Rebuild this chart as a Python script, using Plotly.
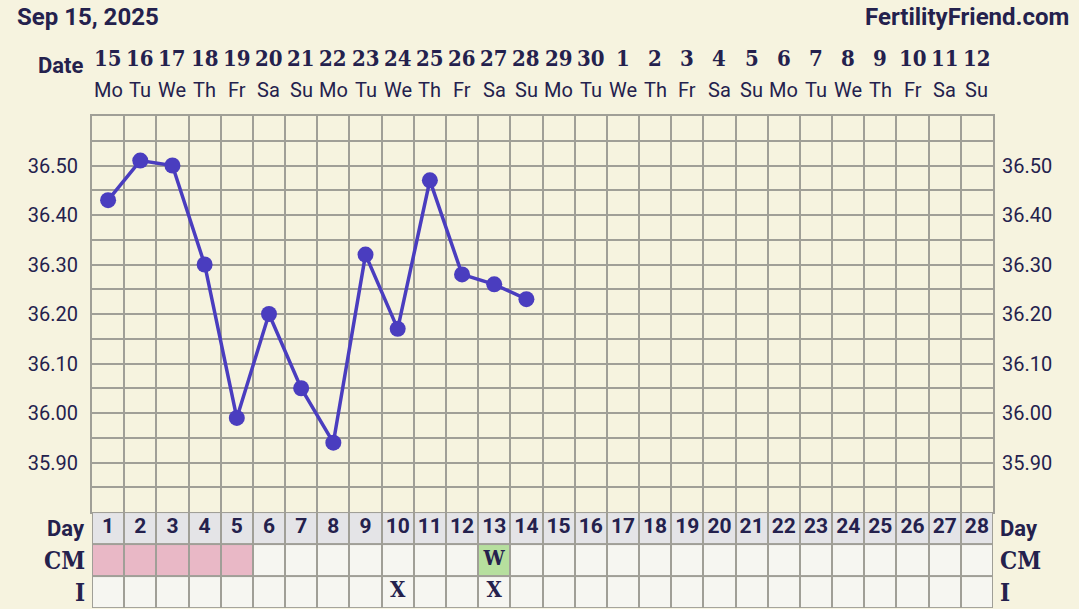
import plotly.graph_objects as go

# Дані графіка
cycle_days = list(range(1, 29))
dates = [15, 16, 17, 18, 19, 20, 21, 22, 23, 24, 25, 26, 27, 28,
         29, 30, 1, 2, 3, 4, 5, 6, 7, 8, 9, 10, 11, 12]
weekdays = ['Mo', 'Tu', 'We', 'Th', 'Fr', 'Sa', 'Su', 'Mo', 'Tu', 'We', 'Th', 'Fr', 'Sa', 'Su',
            'Mo', 'Tu', 'We', 'Th', 'Fr', 'Sa', 'Su', 'Mo', 'Tu', 'We', 'Th', 'Fr', 'Sa', 'Su']
temp_days = [1, 2, 3, 4, 5, 6, 7, 8, 9, 10, 11, 12, 13, 14]
temps = [36.43, 36.51, 36.50, 36.30, 35.99, 36.20, 36.05, 35.94, 36.32, 36.17, 36.47, 36.28, 36.26, 36.23]
temp_ticks = [35.85, 35.90, 35.95, 36.00, 36.05, 36.10, 36.15, 36.20,
              36.25, 36.30, 36.35, 36.40, 36.45, 36.50, 36.55]
temp_labels = ['', '35.90', '', '36.00', '', '36.10', '', '36.20',
               '', '36.30', '', '36.40', '', '36.50', '']
period_days = [1, 2, 3, 4, 5]
cm_days = [13]
cm_text = ['W']
intercourse_days = [10, 13]
intercourse_text = ['X', 'X']

# Кольори
BG = '#f6f3df'
GRID = '#a09f97'
TEXT = '#24214d'
LINE = '#4a3dbf'
DAY_ROW = '#e4e4e7'
CELL = '#f6f6f1'
PINK = '#e9b8c6'
GREEN = '#b6df9e'

SLAB = 'DejaVu Serif Condensed, DejaVu Serif, serif'
SANS = 'Roboto, sans-serif'

# Матриця клітинок таблиці: рядок 0 - I, 1 - CM, 2 - Day
row_i = [1 for d in cycle_days]
row_cm = []
for d in cycle_days:
    if d in period_days:
        row_cm.append(2)
    elif d in cm_days:
        row_cm.append(3)
    else:
        row_cm.append(1)
row_day = [0 for d in cycle_days]
z = [row_i, row_cm, row_day]

fig = go.Figure()

fig.add_trace(go.Heatmap(
    x=cycle_days, y=[0.5, 1.5, 2.5], z=z,
    xaxis='x', yaxis='y2',
    zmin=0, zmax=3,
    colorscale=[[0, DAY_ROW], [0.166, DAY_ROW], [0.166, CELL], [0.5, CELL],
                [0.5, PINK], [0.833, PINK], [0.833, GREEN], [1, GREEN]],
    showscale=False, xgap=2, ygap=2, hoverinfo='skip'
))

# Номери днів циклу
fig.add_trace(go.Scatter(
    x=cycle_days, y=[2.5] * len(cycle_days), xaxis='x', yaxis='y2',
    mode='text', text=[str(d) for d in cycle_days],
    textfont=dict(family=SANS, size=21, color=TEXT, weight=700),
    hoverinfo='skip'
))
fig.add_trace(go.Scatter(
    x=cm_days, y=[1.5] * len(cm_days), xaxis='x', yaxis='y2',
    mode='text', text=cm_text,
    textfont=dict(family=SLAB, size=21, color=TEXT, weight=700),
    hoverinfo='skip'
))
fig.add_trace(go.Scatter(
    x=intercourse_days, y=[0.5] * len(intercourse_days), xaxis='x', yaxis='y2',
    mode='text', text=intercourse_text,
    textfont=dict(family=SLAB, size=22, color=TEXT, weight=700),
    hoverinfo='skip'
))

# Температура
fig.add_trace(go.Scatter(
    x=temp_days, y=temps, mode='lines+markers',
    line=dict(color=LINE, width=3.5),
    marker=dict(color=LINE, size=16),
    hoverinfo='skip'
))
# Праві підписи осі
fig.add_trace(go.Scatter(
    x=temp_days, y=temps, yaxis='y3', mode='markers',
    marker=dict(opacity=0), hoverinfo='skip'
))

cell_bounds = [d - 0.5 for d in cycle_days] + [28.5]

fig.update_layout(
    width=1079, height=609,
    margin=dict(l=92, r=86, t=116, b=1),
    paper_bgcolor=BG, plot_bgcolor=BG,
    showlegend=False,
    font=dict(family=SANS, color=TEXT),
    xaxis=dict(range=[0.5, 28.5], tickvals=cell_bounds, showticklabels=False,
               ticks='', showgrid=True, gridcolor=GRID, gridwidth=2,
               showline=True, linecolor=GRID, linewidth=2, mirror=True,
               zeroline=False, anchor='y', fixedrange=True),
    yaxis=dict(domain=[0.1951, 1], range=[35.80, 36.60],
               tickvals=temp_ticks, ticktext=temp_labels,
               tickfont=dict(family=SANS, size=20, color=TEXT),
               ticks='', ticklabelstandoff=8,
               showgrid=True, gridcolor=GRID, gridwidth=2,
               showline=True, linecolor=GRID, linewidth=2, mirror=True,
               zeroline=False),
    yaxis2=dict(domain=[0, 0.1951], range=[0, 3], showticklabels=False,
                showgrid=False, zeroline=False, ticks=''),
    yaxis3=dict(overlaying='y', side='right', matches='y', anchor='x',
                tickvals=temp_ticks, ticktext=temp_labels,
                tickfont=dict(family=SANS, size=20, color=TEXT),
                ticks='', ticklabelstandoff=8,
                showgrid=False, zeroline=False, showline=False),
)

# Сіре тло під клітинками таблиці
fig.add_shape(type='rect', xref='x', yref='y2', x0=0.5, x1=28.5, y0=0, y1=3,
              fillcolor=GRID, line=dict(width=0), layer='below')

annotations = []
# Дати та дні тижня
for d, num, wd in zip(cycle_days, dates, weekdays):
    annotations.append(dict(x=d, y=1, xref='x', yref='paper', yshift=58,
                            text=str(num), showarrow=False, yanchor='middle',
                            font=dict(family=SLAB, size=22, color=TEXT, weight=700)))
    annotations.append(dict(x=d, y=1, xref='x', yref='paper', yshift=26,
                            text=wd, showarrow=False, yanchor='middle',
                            font=dict(family=SANS, size=20, color=TEXT)))

annotations.append(dict(x=0, y=1, xref='paper', yref='paper', xshift=-6, yshift=51,
                        text='Date', showarrow=False, xanchor='right', yanchor='middle',
                        font=dict(family=SANS, size=22, color=TEXT, weight=700)))

# Підписи рядків таблиці
row_names = ['Day', 'CM', 'I']
row_fonts = [SANS, SLAB, SLAB]
row_sizes = [22, 24, 24]
row_y = [2.5, 1.5, 0.5]
for name, fam, sz, yy in zip(row_names, row_fonts, row_sizes, row_y):
    annotations.append(dict(x=0, y=yy, xref='paper', yref='y2', xshift=-5,
                            text=name, showarrow=False, xanchor='right', yanchor='middle',
                            font=dict(family=fam, size=sz, color=TEXT, weight=700)))
    annotations.append(dict(x=1, y=yy, xref='paper', yref='y2', xshift=5,
                            text=name, showarrow=False, xanchor='left', yanchor='middle',
                            font=dict(family=fam, size=sz, color=TEXT, weight=700)))

# Заголовки
annotations.append(dict(x=-77 / 901, y=1 + 99 / 492, xref='paper', yref='paper',
                        text='Sep 15, 2025', showarrow=False,
                        xanchor='left', yanchor='middle',
                        font=dict(family=SANS, size=24, color=TEXT, weight=700)))
annotations.append(dict(x=1 + 78 / 901, y=1 + 99 / 492, xref='paper', yref='paper',
                        text='FertilityFriend.com', showarrow=False,
                        xanchor='right', yanchor='middle',
                        font=dict(family=SANS, size=24, color=TEXT, weight=700)))

fig.update_layout(annotations=annotations)

# Прибираємо стандартний відступ сторінки та панель інструментів
fig.write_html("out.html", config={'displayModeBar': False},
               post_script="document.body.style.margin = '0';")
